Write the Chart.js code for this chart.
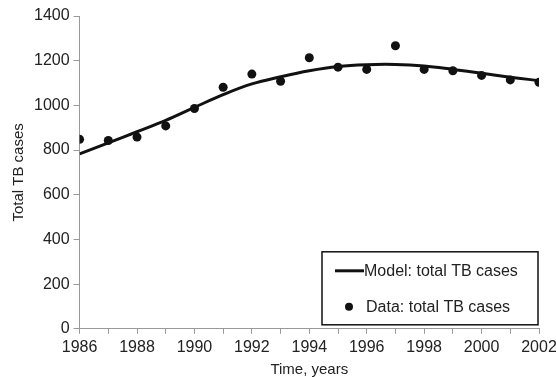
<!DOCTYPE html>
<html>
<head>
<meta charset="utf-8">
<script src="https://cdn.jsdelivr.net/npm/chart.js@4"></script>
<style>
html,body{margin:0;padding:0;background:#fff;}
#wrap{position:relative;width:556px;height:377px;}
</style>
</head>
<body>
<div id="wrap"><canvas id="c" width="556" height="377"></canvas></div>
<script>
const years = [1986,1987,1988,1989,1990,1991,1992,1993,1994,1995,1996,1997,1998,1999,2000,2001,2002];
const dataCases = [848,843,858,908,986,1081,1140,1108,1213,1171,1161,1267,1161,1155,1134,1114,1103];
const modelCases = [783,832,882,933,991,1048,1096,1128,1155,1174,1182,1183,1176,1161,1144,1126,1111];
const yTicks = [0,200,400,600,800,1000,1200,1400];
const xLabelYears = [1986,1988,1990,1992,1994,1996,1998,2000,2002];
const modelLabel = 'Model: total TB cases';
const dataLabel = 'Data: total TB cases';

const FONT = '"Liberation Sans", Arial, sans-serif';

const legendBox = {
  id: 'legendBox',
  afterDraw(chart) {
    const ctx = chart.ctx;
    const ca = chart.chartArea;
    const x0 = ca.right - 217, y0 = ca.bottom - 77, w = 216, h = 73;
    ctx.save();
    ctx.fillStyle = '#fff';
    ctx.fillRect(x0, y0, w, h);
    ctx.strokeStyle = '#111';
    ctx.lineWidth = 1.5;
    ctx.strokeRect(x0, y0, w, h);
    ctx.strokeStyle = '#111';
    ctx.lineWidth = 3;
    ctx.beginPath();
    ctx.moveTo(x0 + 13, y0 + 19);
    ctx.lineTo(x0 + 42, y0 + 19);
    ctx.stroke();
    ctx.fillStyle = '#111';
    ctx.beginPath();
    ctx.arc(x0 + 27, y0 + 55, 4, 0, Math.PI * 2);
    ctx.fill();
    ctx.fillStyle = '#222';
    ctx.font = '16px ' + FONT;
    ctx.textBaseline = 'middle';
    ctx.textAlign = 'left';
    ctx.fillText(modelLabel, x0 + 42, y0 + 20);
    ctx.fillText(dataLabel, x0 + 44, y0 + 56);
    ctx.restore();
  }
};

new Chart(document.getElementById('c'), {
  type: 'line',
  data: {
    datasets: [
      {
        label: modelLabel,
        data: years.map((y, i) => ({x: y, y: modelCases[i]})),
        borderColor: '#111',
        borderWidth: 3,
        pointRadius: 0,
        tension: 0.4,
        fill: false,
        order: 2
      },
      {
        label: dataLabel,
        data: years.map((y, i) => ({x: y, y: dataCases[i]})),
        showLine: false,
        pointRadius: 4.5,
        pointBackgroundColor: '#111',
        pointBorderColor: '#111',
        pointBorderWidth: 0,
        order: 1
      }
    ]
  },
  options: {
    responsive: false,
    animation: false,
    layout: {padding: {top: 16, right: 17, left: 6, bottom: 0}},
    plugins: {legend: {display: false}, tooltip: {enabled: false}},
    scales: {
      x: {
        type: 'linear',
        min: 1986, max: 2002,
        afterFit: s => { s.paddingRight = 0; },
        ticks: {
          stepSize: 1,
          autoSkip: false,
          maxRotation: 0,
          color: '#222',
          font: {family: FONT, size: 16},
          padding: 4,
          callback: v => xLabelYears.includes(v) ? String(v) : ''
        },
        grid: {drawOnChartArea: false, tickLength: 5, color: '#999'},
        border: {color: '#999', width: 1},
        title: {display: true, text: 'Time, years', color: '#222', font: {family: FONT, size: 15, lineHeight: 1.0}, padding: {top: 1, bottom: 0}}
      },
      y: {
        min: 0, max: 1400,
        afterFit: s => { s.paddingTop = 0; },
        afterBuildTicks: axis => { axis.ticks = yTicks.map(v => ({value: v})); },
        ticks: {color: '#222', font: {family: FONT, size: 16}, padding: 4, callback: v => String(v)},
        grid: {drawOnChartArea: false, tickLength: 6, color: '#999'},
        border: {color: '#999', width: 1},
        title: {display: true, text: 'Total TB cases', color: '#222', font: {family: FONT, size: 15}, padding: {bottom: 2}}
      }
    }
  },
  plugins: [legendBox]
});
</script>
</body>
</html>
